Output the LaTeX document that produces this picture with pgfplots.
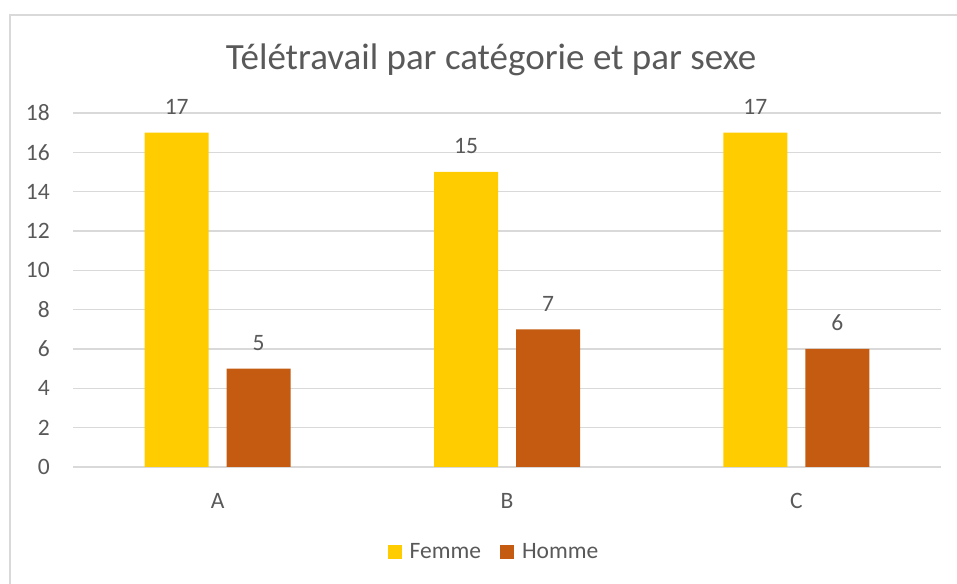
\documentclass[border=0pt]{standalone}
\usepackage{pgfplots}
\pgfplotsset{compat=1.18}
\usepackage{fontspec}
\setmainfont{Carlito}
\definecolor{femme}{HTML}{FFCC00}
\definecolor{homme}{HTML}{C55A11}
\definecolor{txt}{HTML}{595959}
\definecolor{grd}{HTML}{D9D9D9}
\newcommand{\tickfont}{\fontsize{23.5}{28}\selectfont}

\begin{document}
\begin{tikzpicture}[x=1pt, y=1pt]
\useasboundingbox (0,0) rectangle (957,583);
% chart border (right and bottom edges fall outside the picture)
\draw[grd, line width=1.5pt] (10,-10) -- (10,568) -- (970,568);
\node[text=txt, font=\fontsize{37}{44}\selectfont] at (491,523) {Télétravail par catégorie et par sexe};

\begin{axis}[
  at={(73pt,116pt)}, anchor=south west,
  scale only axis, width=868pt, height=354pt,
  xmin=-0.5, xmax=2.5, ymin=0, ymax=18,
  xtick={0,1,2}, xticklabels={A,B,C},
  ytick={0,2,...,18},
  /pgf/number format/assume math mode=true,
  axis line style={draw=none},
  major tick length=0pt,
  ymajorgrids,
  grid style={grd, line width=1.2pt},
  tick label style={font=\tickfont, text=txt, inner sep=0pt},
  yticklabel style={anchor=east, xshift=-23pt},
  xticklabel style={anchor=north, yshift=-26pt},
  ybar=18pt, bar width=64pt,
  nodes near coords,
  every node near coord/.append style={font=\tickfont, text=txt, anchor=south, inner sep=0pt, yshift=18pt},
  legend columns=2,
  legend style={at={(0.485,-0.24)}, anchor=center, draw=none, font=\tickfont, text=txt,
    /tikz/every odd column/.append style={column sep=6pt},
    /tikz/every even column/.append style={column sep=17pt}},
  legend image code/.code={\fill[#1] (0pt,-7pt) rectangle (14pt,7pt);},
]
\addplot[fill=femme, draw=none] coordinates {(0,17) (1,15) (2,17)};
\addplot[fill=homme, draw=none] coordinates {(0,5) (1,7) (2,6)};
\legend{Femme, Homme}
\end{axis}
\end{tikzpicture}
\end{document}
